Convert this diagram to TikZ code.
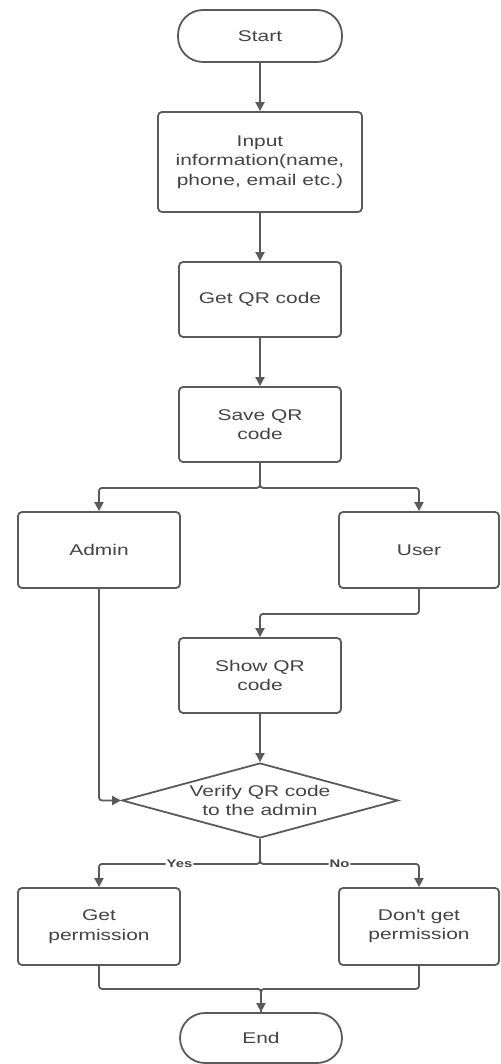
\documentclass[tikz,border=0pt]{standalone}
\usepackage{fontspec}
\setmainfont[FakeStretch=1.35]{Liberation Sans}
\usetikzlibrary{arrows.meta,shapes.geometric}
\definecolor{edge}{HTML}{5A5A5A}
\definecolor{ink}{HTML}{444444}
\tikzset{
  box/.style={draw=edge, line width=1.8pt, rounded corners=4pt, fill=white,
    align=center, text=ink, inner sep=2pt,
    font=\fontsize{15.5}{19.5}\selectfont},
  term/.style={box, rounded corners=25pt},
  txt/.style={align=center, text=ink, font=\fontsize{15.5}{19.5}\selectfont},
  decision/.style={diamond, draw=edge, line width=1.8pt, fill=white, inner sep=0pt,
    minimum width=276pt, minimum height=75pt},
  arr/.style={draw=edge, line width=1.8pt, rounded corners=3pt,
    -{Triangle[width=9pt,length=9pt]}},
  lnk/.style={draw=edge, line width=1.8pt, rounded corners=3pt},
  lbl/.style={fill=white, text=ink, inner sep=1pt,
    font=\fontsize{11}{13}\selectfont\bfseries}
}
\begin{document}
\begin{tikzpicture}[x=1pt, y=-1pt]
  \useasboundingbox (0,0) rectangle (500,1064);

  % process steps
  \node[term, minimum width=164pt, minimum height=52pt] (start) at (260,36) {Start};
  \node[box, minimum width=204pt, minimum height=100pt] (input) at (260,162)
    {Input\\information(name,\\phone, email etc.)};
  \node[box, minimum width=162pt, minimum height=75pt] (getqr) at (260,299.5) {Get QR code};
  \node[box, minimum width=162pt, minimum height=75pt] (saveqr) at (260,424.5) {Save QR\\code};
  \node[box, minimum width=162pt, minimum height=76pt] (admin) at (99,550) {Admin};
  \node[box, minimum width=160pt, minimum height=76pt] (user) at (419,550) {User};
  \node[box, minimum width=162pt, minimum height=75pt] (showqr) at (260,675.5) {Show QR\\code};
  \node[decision] (dec) at (260,800.5) {};
  \node[txt] (dectext) at (dec.center) {Verify QR code\\to the admin};
  \node[box, minimum width=162pt, minimum height=77pt] (getp) at (99,926.5) {Get\\permission};
  \node[box, minimum width=160pt, minimum height=77pt] (nogetp) at (419,926.5)
    {Don\textquotesingle t get\\permission};
  \node[term, minimum width=162pt, minimum height=50pt] (end) at (261,1038) {End};

  % connectors
  \draw[arr] (start) -- (input);
  \draw[arr] (input) -- (getqr);
  \draw[arr] (getqr) -- (saveqr);
  \draw[arr] (saveqr.south) -- ++(0,25) -| (admin.north);
  \draw[arr] (saveqr.south) -- ++(0,25) -| (user.north);
  \draw[arr] (user.south) -- ++(0,25) -| (showqr.north);
  \draw[arr] (showqr) -- (dec.north);
  \draw[arr] (admin.south) |- (dec.west);
  \draw[arr] (dec.south) -- ++(0,25) -| node[lbl, pos=0.25] {Yes} (getp.north);
  \draw[arr] (dec.south) -- ++(0,25) -| node[lbl, pos=0.25] {No} (nogetp.north);
  \draw[lnk] (getp.south) -- ++(0,23) -| (end.north);
  \draw[arr] (nogetp.south) -- ++(0,23) -| (end.north);
\end{tikzpicture}
\end{document}
